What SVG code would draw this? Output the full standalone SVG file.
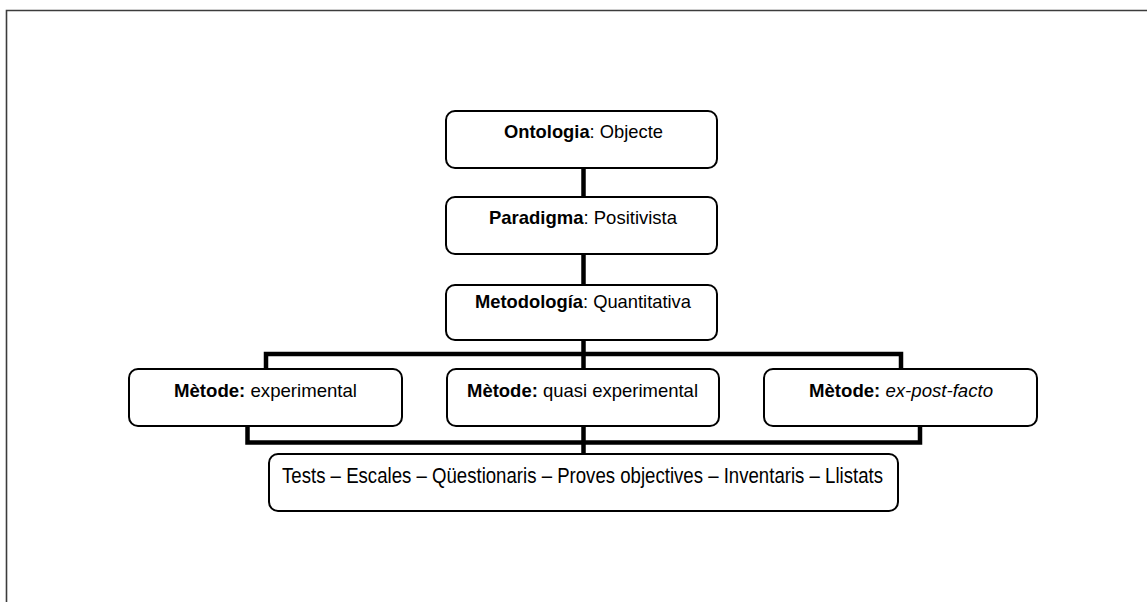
<svg xmlns="http://www.w3.org/2000/svg" width="1147" height="602" viewBox="0 0 1147 602">
<style>
.box{fill:#fff;stroke:#000;stroke-width:2}
.t{font-family:"Liberation Sans",Arial,sans-serif;font-size:18.5px;fill:#000;text-anchor:middle}
.tb{font-size:22px}
.b{font-weight:bold}
.i{font-style:italic}
.con{fill:none;stroke:#000;stroke-width:4.5;stroke-linejoin:miter}
</style>
<rect width="1147" height="602" fill="#fff"/>
<path d="M6.5,602 V10.5 H1147" fill="none" stroke="#3c3c3c" stroke-width="1.6"/>
<g id="connectors">
<path class="con" d="M583.5,168 V197"/>
<path class="con" d="M583.5,254 V285"/>
<path class="con" d="M583.5,340 V369"/>
<path class="con" d="M266,369 V354 H901 V369"/>
<path class="con" d="M247.5,426 V442.5 H920 V426"/>
<path class="con" d="M583.5,426 V454"/>
</g>
<g id="ontologia">
<rect class="box" x="446" y="111" width="271" height="57" rx="9"/>
<text class="t" x="583.5" y="138" textLength="159" lengthAdjust="spacingAndGlyphs"><tspan class="b">Ontologia</tspan>: Objecte</text>
</g>
<g id="paradigma">
<rect class="box" x="446" y="197" width="271" height="57" rx="9"/>
<text class="t" x="583" y="223.5" textLength="188" lengthAdjust="spacingAndGlyphs"><tspan class="b">Paradigma</tspan>: Positivista</text>
</g>
<g id="metodologia">
<rect class="box" x="446" y="285" width="271" height="55" rx="9"/>
<text class="t" x="583" y="307.5" textLength="216" lengthAdjust="spacingAndGlyphs"><tspan class="b">Metodología</tspan>: Quantitativa</text>
</g>
<g id="metode-experimental">
<rect class="box" x="129" y="369" width="273" height="57" rx="9"/>
<text class="t" x="265.5" y="396.5" textLength="183" lengthAdjust="spacingAndGlyphs"><tspan class="b">Mètode:</tspan> experimental</text>
</g>
<g id="metode-quasi">
<rect class="box" x="447" y="369" width="272" height="57" rx="9"/>
<text class="t" x="582.5" y="396.5" textLength="231" lengthAdjust="spacingAndGlyphs"><tspan class="b">Mètode:</tspan> quasi experimental</text>
</g>
<g id="metode-expostfacto">
<rect class="box" x="764" y="369" width="273" height="57" rx="9"/>
<text class="t" x="901" y="396.5" textLength="184" lengthAdjust="spacingAndGlyphs"><tspan class="b">Mètode:</tspan> <tspan class="i">ex-post-facto</tspan></text>
</g>
<g id="instruments">
<rect class="box" x="269" y="454" width="629" height="57" rx="9"/>
<text class="t tb" x="582.5" y="482.5" textLength="601" lengthAdjust="spacingAndGlyphs">Tests – Escales – Qüestionaris – Proves objectives – Inventaris – Llistats</text>
</g>
</svg>
